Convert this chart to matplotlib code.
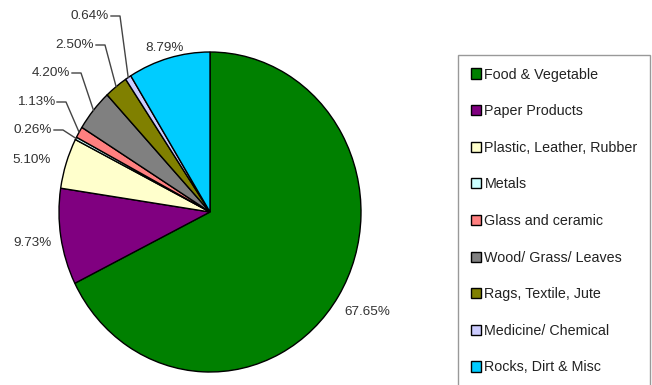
import numpy as np
from matplotlib import pyplot as plt
import matplotlib
matplotlib.rcParams['font.family'] = ['Liberation Sans', 'DejaVu Sans']

categories = ['Food & Vegetable', 'Paper Products', 'Plastic, Leather, Rubber', 'Metals',
              'Glass and ceramic', 'Wood/ Grass/ Leaves', 'Rags, Textile, Jute',
              'Medicine/ Chemical', 'Rocks, Dirt & Misc']
shares = [67.65, 9.73, 5.10, 0.26, 1.13, 4.20, 2.50, 0.64, 8.79]
colors = ['#008000', '#800080', '#FFFFCC', '#CCFFFF', '#FF8080',
          '#808080', '#808000', '#CCCCFF', '#00CCFF']

# label placement in pixels (x, y from top), and whether a leader line is drawn
label_xy = [(367, 312), (32, 243), (32, 160), (52, 130), (55, 102),
            (70, 73), (94, 45), (109, 16), (165, 48)]
leader = [False, False, False, True, True, True, True, True, False]

W, H = 652, 385
fig = plt.figure(figsize=(W / 100, H / 100), dpi=100)

# pie is slightly stretched vertically in the original
cx, cy, rx, ry = 210, 212, 151, 160
pie_ax = fig.add_axes([(cx - rx) / W, (H - cy - ry) / H, 2 * rx / W, 2 * ry / H])
wedges, _ = pie_ax.pie(shares, colors=colors, startangle=90, counterclock=False,
                       wedgeprops=dict(edgecolor='black', linewidth=1.0))
pie_ax.set_aspect('auto')
pie_ax.set_xlim(-1, 1)
pie_ax.set_ylim(-1, 1)

ov = fig.add_axes([0, 0, 1, 1])
ov.set_xlim(0, W)
ov.set_ylim(H, 0)
ov.axis('off')
ov.patch.set_alpha(0)

to_px = pie_ax.transData + ov.transData.inverted()

for w, v, (lx, ly), ld in zip(wedges, shares, label_xy, leader):
    txt = f'{v:.2f}%'
    if ld:
        ov.text(lx, ly, txt, ha='right', va='center', fontsize=9.7, color='#333333')
        a = np.deg2rad((w.theta1 + w.theta2) / 2)
        ex, ey = to_px.transform((np.cos(a), np.sin(a)))
        ov.plot([lx + 2, lx + 11, ex], [ly, ly, ey], color='#444444', lw=1.0)
    else:
        ov.text(lx, ly, txt, ha='center', va='center', fontsize=9.7, color='#333333')

leg = ov.legend(wedges, categories, loc='upper left',
                bbox_to_anchor=(458 / W, 1 - 55 / H), borderaxespad=0,
                fontsize=10.3, frameon=True, fancybox=False, edgecolor='#808080',
                handlelength=0.72, handleheight=0.72, handletextpad=0.25,
                labelspacing=1.58, borderpad=0.88)
leg.get_frame().set_linewidth(1.0)
for t in leg.get_texts():
    t.set_color('#222222')

fig.savefig('out.png', dpi=100)
